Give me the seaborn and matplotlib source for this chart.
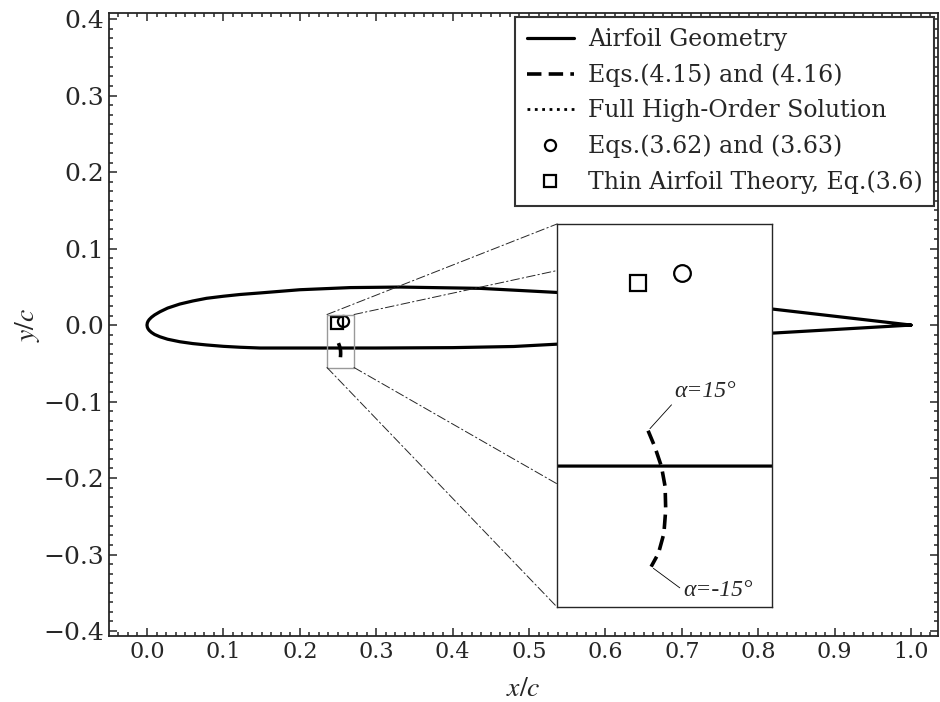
import numpy as np
import pandas as pd
import matplotlib
matplotlib.use("Agg")
import matplotlib.pyplot as plt
import seaborn as sns
from matplotlib.lines import Line2D
from matplotlib.patches import Rectangle, ConnectionPatch
from matplotlib.ticker import AutoMinorLocator

# ---------------- data ----------------
upper_x = [1.0, 0.819, 0.68, 0.536, 0.436, 0.331, 0.266, 0.2, 0.148, 0.122, 0.1,
           0.078, 0.06, 0.043, 0.027, 0.017, 0.01, 0.006, 0.003, 0.0015, 0.0005, 0.0]
upper_y = [0.0, 0.0209, 0.032, 0.0427, 0.048, 0.0497, 0.049, 0.0462, 0.042, 0.040, 0.0377,
           0.035, 0.0315, 0.0275, 0.0222, 0.0174, 0.0133, 0.0103, 0.0073, 0.0052, 0.0030, 0.0]
lower_x = [0.0, 0.0005, 0.0015, 0.003, 0.006, 0.01, 0.017, 0.027, 0.043, 0.06, 0.078,
           0.1, 0.122, 0.148, 0.2, 0.3, 0.4, 0.48, 0.536, 0.68, 0.819, 1.0]
lower_y = [0.0, -0.0029, -0.0050, -0.0070, -0.0097, -0.0123, -0.0153, -0.0185, -0.0218,
           -0.0242, -0.026, -0.0278, -0.029, -0.030, -0.030, -0.030, -0.0295, -0.028,
           -0.025, -0.018, -0.0105, 0.0]

eq415_x = [0.2506, 0.2517, 0.2528, 0.2534, 0.2535, 0.2532, 0.2523, 0.2511]
eq415_y = [-0.0236, -0.0265, -0.0301, -0.0337, -0.0379, -0.0422, -0.0458, -0.0482]

eq362_x = [0.2562]
eq362_y = [0.0049]
thin_x = [0.2489]
thin_y = [0.0031]

labels = ["Airfoil Geometry", "Eqs.(4.15) and (4.16)", "Full High-Order Solution",
          "Eqs.(3.62) and (3.63)", "Thin Airfoil Theory, Eq.(3.6)"]
alpha_labels = ["α=15°", "α=-15°"]

xticks = [0.0, 0.1, 0.2, 0.3, 0.4, 0.5, 0.6, 0.7, 0.8, 0.9, 1.0]
yticks = [-0.4, -0.3, -0.2, -0.1, 0.0, 0.1, 0.2, 0.3, 0.4]

inset_xlim = (0.2356, 0.271)
inset_ylim = (-0.0555, 0.0138)

# ---------------- style ----------------
sns.set_style("ticks")
plt.rcParams["font.family"] = ["DejaVu Serif"]
plt.rcParams["mathtext.fontset"] = "stix"
plt.rcParams["xtick.direction"] = "in"
plt.rcParams["ytick.direction"] = "in"

airfoil = pd.DataFrame({"x": upper_x + lower_x[1:], "y": upper_y + lower_y[1:]})
eq415 = pd.DataFrame({"x": eq415_x, "y": eq415_y})

fig = plt.figure(figsize=(9.4, 7.02), dpi=100)
ax = fig.add_axes([109 / 940, 66 / 702, 829 / 940, 623 / 702])

DASH = (0, (4.0, 2.0))
LW = 2.3


def draw_all(a, ms):
    sns.lineplot(data=airfoil, x="x", y="y", sort=False, estimator=None, ax=a,
                 color="black", linewidth=LW)
    sns.lineplot(data=eq415, x="x", y="y", sort=False, estimator=None, ax=a,
                 color="black", linewidth=2.6, linestyle=DASH)
    a.plot(eq362_x, eq362_y, linestyle="none", marker="o", ms=ms,
           mfc="none", mec="black", mew=1.6)
    a.plot(thin_x, thin_y, linestyle="none", marker="s", ms=ms,
           mfc="none", mec="black", mew=1.6)


draw_all(ax, 8)

ax.set_xlim(-0.0497, 1.0353)
ax.set_ylim(-0.4065, 0.408)
ax.set_xticks(xticks)
ax.set_yticks(yticks)
ax.xaxis.set_minor_locator(AutoMinorLocator(8))
ax.yaxis.set_minor_locator(AutoMinorLocator(8))
ax.tick_params(which="both", top=True, right=True, direction="in", width=1.1)
ax.tick_params(axis="x", labelsize=16)
ax.tick_params(axis="y", labelsize=18)
ax.tick_params(which="major", length=6)
ax.tick_params(which="minor", length=3)
for s in ax.spines.values():
    s.set_linewidth(1.3)
ax.set_xlabel("$x/c$", fontsize=20, labelpad=9)
ax.set_ylabel("$y/c$", fontsize=20, labelpad=1)

# zoom rectangle
rect = Rectangle((inset_xlim[0], inset_ylim[0]), inset_xlim[1] - inset_xlim[0],
                 inset_ylim[1] - inset_ylim[0], fill=False, edgecolor="0.6",
                 linewidth=1.0, zorder=4)
ax.add_patch(rect)

# inset
axin = ax.inset_axes([(557 - 109) / 829, (636 - 607) / 623, 215 / 829, 383 / 623])
axin.set_facecolor("white")
draw_all(axin, 12)
axin.set_xlim(*inset_xlim)
axin.set_ylim(*inset_ylim)
axin.set_xticks([])
axin.set_yticks([])
axin.set_xlabel("")
axin.set_ylabel("")
for s in axin.spines.values():
    s.set_linewidth(1.0)
    s.set_edgecolor("0.15")

# connector lines (hidden behind the inset where they cross it)
corners = [((inset_xlim[0], inset_ylim[1]), (0, 1)),
           ((inset_xlim[1], inset_ylim[1]), (1, 1)),
           ((inset_xlim[0], inset_ylim[0]), (0, 0)),
           ((inset_xlim[1], inset_ylim[0]), (1, 0))]
for pa, pb in corners:
    cp = ConnectionPatch(xyA=pa, coordsA=ax.transData, xyB=pb, coordsB=axin.transAxes,
                         linestyle=(0, (9, 3, 1.5, 3)), linewidth=0.7, color="0.15",
                         zorder=4.5)
    ax.add_artist(cp)

# alpha annotations
txt_kw = dict(textcoords="offset points", ha="left", fontsize=17,
              family=["Liberation Serif", "DejaVu Serif"], style="italic")
axin.annotate(alpha_labels[0], xy=(eq415_x[0], eq415_y[0]), xytext=(19, 21),
              va="bottom",
              arrowprops=dict(arrowstyle="-", lw=0.6, color="black",
                              shrinkA=0, shrinkB=2, relpos=(0, 0)), **txt_kw)
axin.annotate(alpha_labels[1], xy=(eq415_x[-1], eq415_y[-1]), xytext=(23, -17),
              va="center",
              arrowprops=dict(arrowstyle="-", lw=0.6, color="black",
                              shrinkA=0, shrinkB=2, relpos=(0, 0.5)), **txt_kw)

# legend
handles = [
    Line2D([], [], color="black", lw=LW),
    Line2D([], [], color="black", lw=2.6, linestyle=DASH),
    Line2D([], [], color="black", lw=2.0, linestyle=":"),
    Line2D([], [], color="black", linestyle="none", marker="o", ms=8, mfc="none", mew=1.6),
    Line2D([], [], color="black", linestyle="none", marker="s", ms=8, mfc="none", mew=1.6),
]
leg = ax.legend(handles, labels, loc="upper right", fontsize=17, frameon=True,
                fancybox=False, framealpha=1, edgecolor="0.2", borderaxespad=0.15,
                borderpad=0.5, labelspacing=0.52, handlelength=2.0, handletextpad=0.6)
leg.get_frame().set_linewidth(1.5)

fig.savefig("out.png", dpi=100)
